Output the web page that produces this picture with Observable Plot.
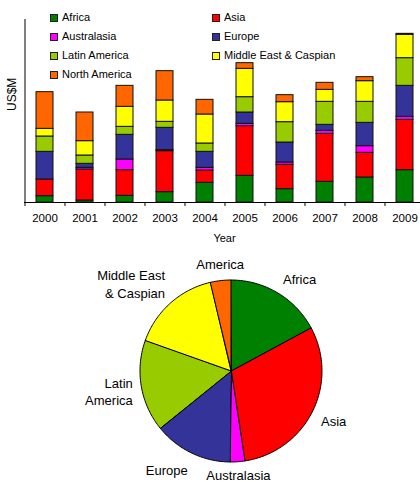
<!DOCTYPE html>
<html><head><meta charset="utf-8">
<script src="https://cdn.jsdelivr.net/npm/d3@7"></script>
<script src="https://cdn.jsdelivr.net/npm/@observablehq/plot@0.6"></script>
<style>
body{margin:0;background:#fff;font-family:"Liberation Sans",Arial,sans-serif;color:#000;}
#wrap{position:relative;width:420px;height:482px;overflow:hidden;background:#fff;}
#bars svg,#pie svg{display:block;overflow:hidden;}
#legend{position:absolute;left:50px;top:8px;display:grid;grid-template-columns:162px 190px;font-size:11px;line-height:19px;}
.item{height:19px;display:flex;align-items:center;white-space:nowrap;}
.sw{width:6px;height:6px;border:1px solid #222;margin-right:4px;flex:none;}
</style></head>
<body><div id="wrap"><div id="bars"></div><div id="legend"></div><div id="pie"></div></div>
<script>
const years = ["2000","2001","2002","2003","2004","2005","2006","2007","2008","2009"];
const regions = ["Africa","Asia","Australasia","Europe","Latin America","Middle East & Caspian","North America"];
const colors = ["#008000","#ff0000","#ff00ff","#333399","#99cc00","#ffff00","#ff6600"];
// bar values (relative units, no axis scale shown)
const africa       = [19, 6, 20, 31, 59, 80, 40, 62, 75, 97];
const asia         = [50, 93, 77, 123, 37, 149, 73, 144, 74, 151];
const australasia  = [0, 5, 32, 3, 8, 7, 7, 9, 20, 9];
const europe       = [83, 12, 74, 67, 48, 34, 60, 18, 70, 93];
const latinAmerica = [46, 25, 24, 18, 25, 46, 61, 69, 63, 83];
const middleEast   = [23, 43, 60, 64, 87, 85, 60, 36, 62, 70];
const northAmerica = [110, 86, 63, 88, 44, 17, 21, 21, 12, 3];
// pie shares (%)
const pieShares = [17.2, 30.4, 2.6, 14.0, 16.3, 15.9, 3.6];
const pieLabels = ["Africa","Asia","Australasia","Europe","Latin\nAmerica","Middle East\n& Caspian","America"];

const series = [africa, asia, australasia, europe, latinAmerica, middleEast, northAmerica];
const barData = years.flatMap((yr, i) => regions.map((r, j) => ({year: yr, region: r, value: series[j][i]})));
const font = "'Liberation Sans', Arial, sans-serif";

const bars = Plot.plot({
  width: 420, height: 256,
  marginTop: 19, marginBottom: 54, marginLeft: 24, marginRight: -4,
  style: {fontFamily: font, fontSize: "11.5px", background: "#fff", color: "#000"},
  x: {domain: years, paddingInner: 0.58, paddingOuter: 0.29, label: null},
  y: {domain: [0, 549], axis: null},
  color: {domain: regions, range: colors},
  marks: [
    Plot.barY(barData, {x: "year", y: "value", fill: "region", z: "region", order: regions, stroke: "#111", strokeWidth: 1}),
    Plot.ruleY([0], {stroke: "#000"}),
    Plot.ruleX([years[0]], {dx: -20, stroke: "#000"}),
    Plot.axisX({tickSize: 0, tickPadding: 11, fontSize: 11.5, label: null}),
    Plot.axisX({tickSize: 4, dx: -20, fill: "none", stroke: "#000", label: null}),
    Plot.text(["Year"], {frameAnchor: "bottom", dy: 39, fontSize: 11}),
    Plot.text(["US$M"], {frameAnchor: "left", rotate: -90, dx: -12, fontSize: 12})
  ]
});
document.getElementById("bars").appendChild(bars);

const legend = document.getElementById("legend");
regions.forEach((r, i) => {
  const it = document.createElement("div"); it.className = "item";
  const sw = document.createElement("span"); sw.className = "sw"; sw.style.background = colors[i];
  const tx = document.createElement("span"); tx.textContent = r;
  it.appendChild(sw); it.appendChild(tx); legend.appendChild(it);
});

const pieArcs = d3.pie().sort(null).value(d => d.share)(regions.map((r, i) => ({region: r, share: pieShares[i], label: pieLabels[i]})));
const wedgePts = pieArcs.flatMap(a => {
  const n = Math.max(2, Math.ceil((a.endAngle - a.startAngle) / (Math.PI / 180)));
  return d3.range(n + 1).map(k => {
    const t = a.startAngle + (a.endAngle - a.startAngle) * k / n;
    return {region: a.data.region, x: Math.sin(t), y: Math.cos(t)};
  });
});
const R = 91;
const labelData = pieArcs.map(a => {
  const m = (a.startAngle + a.endAngle) / 2;
  const s = Math.sin(m), c = Math.cos(m);
  const lines = a.data.label.split("\n").length;
  const off = lines * 8.75 / R;
  return {text: a.data.label, x: 1.1 * s, y: Math.max(-1.13, 1.1 * c + c * off), anchor: s > 0.3 ? "start" : s < -0.3 ? "end" : "middle"};
});
const textOpts = {x: "x", y: "y", text: "text", fontSize: 13, lineHeight: 1.35, fill: "#000"};

const pie = Plot.plot({
  width: 420, height: 226,
  marginTop: 24, marginBottom: 20, marginLeft: 140, marginRight: 98,
  style: {fontFamily: font, background: "#fff", color: "#000"},
  x: {domain: [-1, 1], axis: null},
  y: {domain: [-1, 1], axis: null},
  color: {domain: regions, range: colors},
  marks: [
    Plot.area(wedgePts, {x1: "x", y1: "y", x2: d => 0, y2: d => 0, z: "region", fill: "region", stroke: "#000", strokeWidth: 1}),
    Plot.text(labelData.filter(d => d.anchor === "start"), {...textOpts, textAnchor: "start"}),
    Plot.text(labelData.filter(d => d.anchor === "end"), {...textOpts, textAnchor: "end"}),
    Plot.text(labelData.filter(d => d.anchor === "middle"), {...textOpts, textAnchor: "middle"})
  ]
});
document.getElementById("pie").appendChild(pie);
</script>
</body></html>
